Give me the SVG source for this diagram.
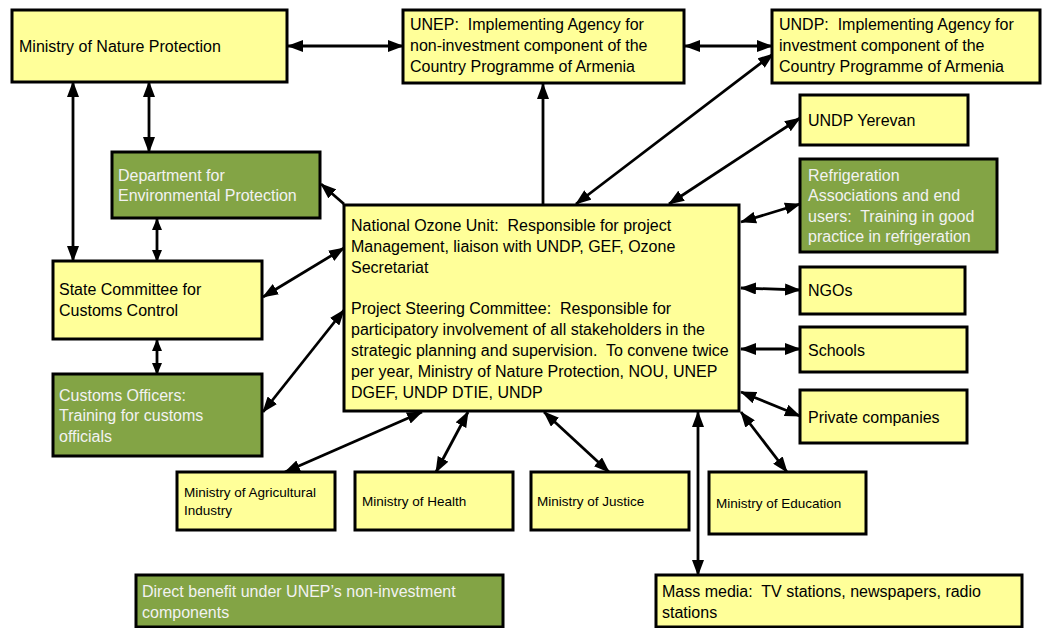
<svg xmlns="http://www.w3.org/2000/svg" width="1046" height="628" viewBox="0 0 1046 628">
<style>
.y{fill:#ffff99;stroke:#000;stroke-width:3}
.g{fill:#83a445;stroke:#000;stroke-width:3}
text{font-family:"Liberation Sans",Arial,sans-serif;font-size:16px;fill:#000;white-space:pre}
.w{fill:#f2f2f2}
.s{font-size:13.5px}
.c line{stroke:#000;stroke-width:2.8;marker-start:url(#ah);marker-end:url(#ah)}
.c line.one{marker-start:none}
.c line.sm{marker-start:url(#as);marker-end:url(#as)}
</style>
<defs>
<marker id="ah" markerUnits="userSpaceOnUse" markerWidth="16" markerHeight="12" viewBox="0 0 16 12" refX="15" refY="6" orient="auto-start-reverse"><path d="M0,0 L16,6 L0,12 z" fill="#000"/></marker>
<marker id="as" markerUnits="userSpaceOnUse" markerWidth="12" markerHeight="10" viewBox="0 0 12 10" refX="11" refY="5" orient="auto-start-reverse"><path d="M0,0 L12,5 L0,10 z" fill="#000"/></marker>
</defs>
<rect width="1046" height="628" fill="#fff"/>
<g class="c" id="connectors">
<line x1="288" y1="46" x2="403" y2="46"/>
<line x1="685" y1="46" x2="772" y2="46"/>
<line x1="73" y1="82" x2="73" y2="261"/>
<line x1="149" y1="82" x2="149" y2="152"/>
<line class="sm" x1="157" y1="219" x2="157" y2="261"/>
<line class="sm" x1="157" y1="340" x2="157" y2="374"/>
<line class="one" x1="543" y1="205" x2="543" y2="84"/>
<line class="one" x1="344" y1="204" x2="321" y2="184"/>
<line x1="576" y1="204" x2="773" y2="54"/>
<line x1="669" y1="204" x2="800" y2="118"/>
<line x1="741" y1="222" x2="800" y2="204"/>
<line x1="741" y1="288" x2="800" y2="290"/>
<line x1="741" y1="349" x2="800" y2="349"/>
<line x1="741" y1="392" x2="800" y2="416"/>
<line x1="344" y1="248" x2="263" y2="297"/>
<line x1="344" y1="310" x2="263" y2="412"/>
<line x1="422" y1="412" x2="285" y2="472"/>
<line x1="468" y1="412" x2="436" y2="472"/>
<line x1="544" y1="412" x2="609" y2="472"/>
<line x1="698" y1="412" x2="698" y2="575"/>
<line x1="741" y1="412" x2="787" y2="472"/>
</g>
<g id="ministry-nature"><rect class="y" x="12" y="10" width="275" height="72"/><text x="19" y="52">Ministry of Nature Protection</text></g>
<g id="unep"><rect class="y" x="403" y="10" width="281" height="73"/><text x="410" y="30">UNEP:  Implementing Agency for</text><text x="410" y="51">non-investment component of the</text><text x="410" y="72">Country Programme of Armenia</text></g>
<g id="undp"><rect class="y" x="772" y="10" width="268" height="73"/><text x="779" y="30">UNDP:  Implementing Agency for</text><text x="779" y="51">investment component of the</text><text x="779" y="72">Country Programme of Armenia</text></g>
<g id="undp-yerevan"><rect class="y" x="800" y="95" width="168" height="50"/><text x="808" y="126">UNDP Yerevan</text></g>
<g id="refrigeration"><rect class="g" x="800" y="159" width="197" height="93"/><text class="w" x="808" y="181">Refrigeration</text><text class="w" x="808" y="201">Associations and end</text><text class="w" x="808" y="222">users:  Training in good</text><text class="w" x="808" y="242">practice in refrigeration</text></g>
<g id="ngos"><rect class="y" x="800" y="267" width="165" height="47"/><text x="808" y="296">NGOs</text></g>
<g id="schools"><rect class="y" x="800" y="327" width="167" height="45"/><text x="808" y="356">Schools</text></g>
<g id="private"><rect class="y" x="800" y="390" width="167" height="53"/><text x="808" y="423">Private companies</text></g>
<g id="department"><rect class="g" x="112" y="152" width="208" height="66"/><text class="w" x="118" y="181">Department for</text><text class="w" x="118" y="201">Environmental Protection</text></g>
<g id="state-committee"><rect class="y" x="53" y="261" width="209" height="78"/><text x="59" y="295">State Committee for</text><text x="59" y="316">Customs Control</text></g>
<g id="customs-officers"><rect class="g" x="53" y="374" width="209" height="82"/><text class="w" x="59" y="401">Customs Officers:</text><text class="w" x="59" y="421">Training for customs</text><text class="w" x="59" y="442">officials</text></g>
<g id="nou"><rect class="y" x="344" y="205" width="395" height="206"/>
<text x="351" y="231">National Ozone Unit:  Responsible for project</text>
<text x="351" y="252">Management, liaison with UNDP, GEF, Ozone</text>
<text x="351" y="273">Secretariat</text>
<text x="351" y="314">Project Steering Committee:  Responsible for</text>
<text x="351" y="335">participatory involvement of all stakeholders in the</text>
<text x="351" y="356">strategic planning and supervision.  To convene twice</text>
<text x="351" y="377">per year, Ministry of Nature Protection, NOU, UNEP</text>
<text x="351" y="398">DGEF, UNDP DTIE, UNDP</text></g>
<g id="agri"><rect class="y" x="177" y="472" width="158" height="58"/><text class="s" x="184" y="497">Ministry of Agricultural</text><text class="s" x="184" y="515">Industry</text></g>
<g id="health"><rect class="y" x="355" y="472" width="158" height="58"/><text class="s" x="362" y="506">Ministry of Health</text></g>
<g id="justice"><rect class="y" x="531" y="472" width="158" height="58"/><text class="s" x="537" y="506">Ministry of Justice</text></g>
<g id="education"><rect class="y" x="709" y="472" width="157" height="62"/><text class="s" x="716" y="508">Ministry of Education</text></g>
<g id="direct-benefit"><rect class="g" x="136" y="575" width="367" height="52"/><text class="w" x="142" y="597">Direct benefit under UNEP’s non-investment</text><text class="w" x="142" y="618">components</text></g>
<g id="mass-media"><rect class="y" x="656" y="575" width="366" height="52"/><text x="662" y="597">Mass media:  TV stations, newspapers, radio</text><text x="662" y="618">stations</text></g>
</svg>
